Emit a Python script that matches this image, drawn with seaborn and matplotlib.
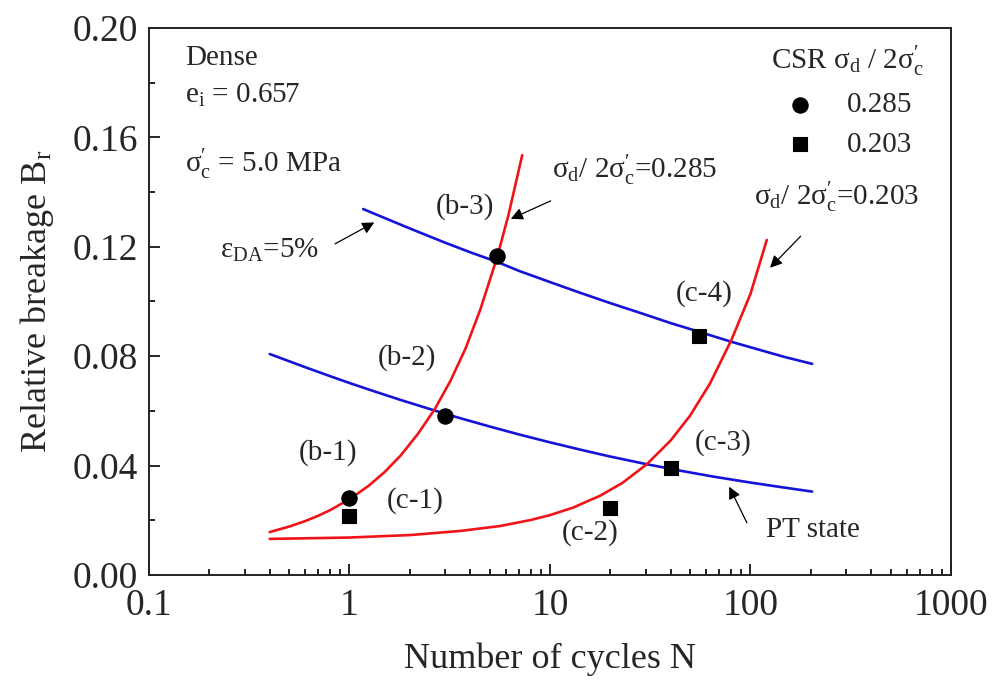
import numpy as np
import pandas as pd
import matplotlib
matplotlib.use('Agg')
import matplotlib.pyplot as plt
from matplotlib.ticker import FixedLocator, LogLocator, FuncFormatter, MultipleLocator
import seaborn as sns

# Measured points (CSR = sigma_d / 2 sigma'_c)
n_285 = [1.0, 3.0, 5.44]
br_285 = [0.028, 0.058, 0.1166]
n_203 = [1.0, 20.0, 40.0, 55.4]
br_203 = [0.0216, 0.0245, 0.039, 0.0874]

# Fitted curves
n_eps = [1.17, 1.5, 2, 3, 4, 5.44, 7, 10, 14, 20, 28, 40, 55, 80, 110, 150, 203]
br_eps = [0.1338, 0.1305, 0.1267, 0.1215, 0.1180, 0.1145, 0.1112, 0.1071, 0.1033,
          0.0994, 0.0959, 0.0921, 0.0890, 0.0853, 0.0824, 0.0796, 0.0772]
n_pt = [0.4, 0.6, 0.8, 1.0, 1.31, 1.8, 2.67, 3.5, 5, 7, 10, 15, 20, 30.4, 45, 65,
        100, 140, 203]
br_pt = [0.0808, 0.0760, 0.0727, 0.0702, 0.0673, 0.0640, 0.0601, 0.0575, 0.0543,
         0.0514, 0.0485, 0.0454, 0.0433, 0.0405, 0.0381, 0.0360, 0.0338, 0.0322, 0.0305]
n_red285 = [0.4, 0.5, 0.6, 0.7, 0.8, 1.0, 1.25, 1.5, 1.8, 2.2, 2.67, 3.2, 3.8, 4.5,
            5.44, 6.2, 7.27]
br_red285 = [0.0157, 0.0177, 0.0197, 0.0217, 0.0237, 0.0277, 0.0327, 0.0377, 0.0437,
             0.0517, 0.0608, 0.0712, 0.0830, 0.0972, 0.1160, 0.1315, 0.1535]
n_red203 = [0.4, 1, 2, 3.56, 5.63, 8, 10, 13, 17.8, 23, 30.4, 40, 50, 62.8, 80.4,
            100, 120.6]
br_red203 = [0.0132, 0.0137, 0.0146, 0.0161, 0.0179, 0.0201, 0.0219, 0.0246, 0.0290,
             0.0337, 0.0405, 0.0492, 0.0583, 0.0700, 0.0860, 0.1028, 0.1225]

x_ticks = [0.1, 1, 10, 100, 1000]
y_ticks = [0.00, 0.04, 0.08, 0.12, 0.16, 0.20]

sns.set_style('ticks')
plt.rcParams['font.family'] = ['Liberation Serif', 'DejaVu Serif']
plt.rcParams['mathtext.fontset'] = 'custom'
plt.rcParams['mathtext.rm'] = 'Liberation Serif'
plt.rcParams['mathtext.it'] = 'Liberation Serif'
plt.rcParams['mathtext.default'] = 'regular'

fig = plt.figure(figsize=(9.96, 6.86), dpi=100)
ax = fig.add_axes([0.1496, 0.1618, 0.8052, 0.7974])

red = '#f01418'
blue = '#1414d8'
for xs, ys, c in [(n_eps, br_eps, blue), (n_pt, br_pt, blue),
                  (n_red285, br_red285, red), (n_red203, br_red203, red)]:
    sns.lineplot(x=xs, y=ys, ax=ax, color=c, lw=1.9, sort=False, estimator=None)

sns.scatterplot(x=n_285, y=br_285, ax=ax, marker='o', color='black', s=120,
                edgecolor='black', zorder=5, label='0.285')
sns.scatterplot(x=n_203, y=br_203, ax=ax, marker='s', color='black', s=100,
                edgecolor='black', zorder=5, label='0.203')

ax.set_xscale('log')
ax.set_xlim(0.1, 1000)
ax.set_ylim(0, 0.20)
ax.xaxis.set_major_locator(FixedLocator(x_ticks))
ax.xaxis.set_minor_locator(LogLocator(base=10, subs=np.arange(2, 10), numticks=20))
ax.xaxis.set_major_formatter(FuncFormatter(lambda v, p: f'{v:g}'))
ax.yaxis.set_major_locator(FixedLocator(y_ticks))
ax.yaxis.set_minor_locator(MultipleLocator(0.02))
ax.yaxis.set_major_formatter(FuncFormatter(lambda v, p: f'{v:.2f}'))
ax.tick_params(which='both', direction='in', top=False, right=False,
               labelsize=27, width=1.2, color='black')
ax.tick_params(which='major', length=8)
ax.tick_params(which='minor', length=4)
ax.tick_params(axis='x', pad=10)
ax.tick_params(axis='y', pad=8)
for s in ax.spines.values():
    s.set_linewidth(1.4)
    s.set_color('#222222')

ax.set_xlabel('Number of cycles N', fontsize=26, labelpad=14)
ax.set_ylabel('Relative breakage B$_r$', fontsize=26, labelpad=12)

fs = 21
tr = ax.transAxes
ax.text(0.045, 0.945, 'Dense', fontsize=fs, transform=tr, va='center')
ax.text(0.045, 0.876, 'e$_i$ = 0.657', fontsize=fs, transform=tr, va='center')
ax.text(0.045, 0.750, r"σ$_c^{\prime}$ = 5.0 MPa", fontsize=fs, transform=tr, va='center')

for txt, xy in [('(b-1)', (0.223, 0.223)), ('(b-2)', (0.322, 0.397)),
                ('(b-3)', (0.394, 0.673)), ('(c-1)', (0.332, 0.137)),
                ('(c-2)', (0.550, 0.077)), ('(c-3)', (0.716, 0.243)),
                ('(c-4)', (0.692, 0.514))]:
    ax.text(*xy, txt, fontsize=fs, transform=tr, ha='center', va='center')

arrow = dict(arrowstyle='-|>', color='black', lw=0.9, mutation_scale=18)
ax.text(0.150, 0.594, 'ε$_{DA}$=5%', fontsize=fs, transform=tr,
        ha='center', va='center')
ax.annotate('', xy=(0.284, 0.647), xytext=(0.229, 0.603),
            xycoords=tr, textcoords=tr, arrowprops=arrow)
ax.text(0.606, 0.740, r"σ$_d$/ 2σ$_c^{\prime}$=0.285", fontsize=fs, transform=tr,
        ha='center', va='center')
ax.annotate('', xy=(0.448, 0.649), xytext=(0.504, 0.686),
            xycoords=tr, textcoords=tr, arrowprops=arrow)
ax.text(0.858, 0.691, r"σ$_d$/ 2σ$_c^{\prime}$=0.203", fontsize=fs, transform=tr,
        ha='center', va='center')
ax.annotate('', xy=(0.772, 0.558), xytext=(0.815, 0.623),
            xycoords=tr, textcoords=tr, arrowprops=arrow)
ax.text(0.828, 0.082, 'PT state', fontsize=fs, transform=tr,
        ha='center', va='center')
ax.annotate('', xy=(0.722, 0.166), xytext=(0.747, 0.091),
            xycoords=tr, textcoords=tr, arrowprops=arrow)

ax.legend(title=r"CSR σ$_d$ / 2σ$_c^{\prime}$", loc='upper left',
          bbox_to_anchor=(0.743, 1.02), frameon=False, fontsize=fs,
          title_fontsize=fs, alignment='left', handletextpad=0.6,
          labelspacing=0.45, borderpad=0.4)

fig.savefig('out.png', dpi=100)
